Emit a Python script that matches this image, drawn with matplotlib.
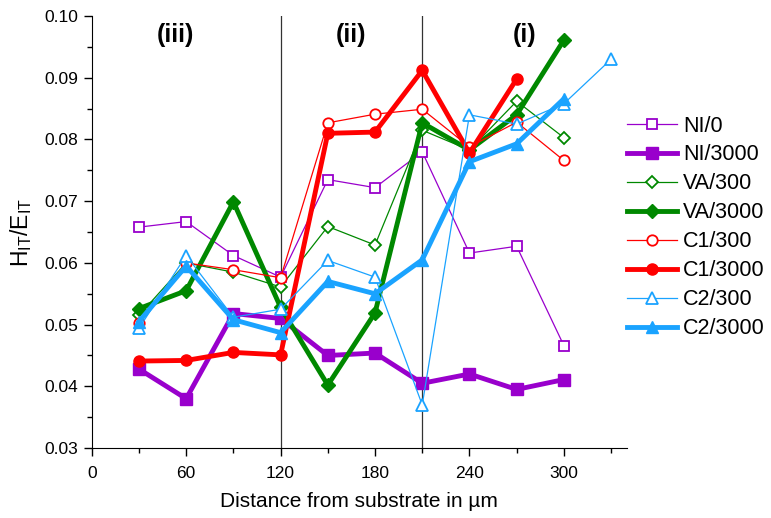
import matplotlib
matplotlib.use("Agg")
import matplotlib.pyplot as plt
from matplotlib.ticker import MultipleLocator, FormatStrFormatter

plt.rcParams['font.family'] = ['Liberation Sans', 'DejaVu Sans']
plt.rcParams['mathtext.fontset'] = 'custom'
plt.rcParams['mathtext.rm'] = 'Liberation Sans'
plt.rcParams['mathtext.it'] = 'Liberation Sans'

x10 = [30, 60, 90, 120, 150, 180, 210, 240, 270, 300]
x9 = [30, 60, 90, 120, 150, 180, 210, 240, 270]
x11 = [30, 60, 90, 120, 150, 180, 210, 240, 270, 300, 330]

ni_0 = [0.0658, 0.0667, 0.0612, 0.0577, 0.0735, 0.0722, 0.0780, 0.0616, 0.0627, 0.0466]
ni_3000 = [0.0428, 0.0380, 0.0518, 0.0510, 0.0450, 0.0454, 0.0405, 0.0420, 0.0395, 0.0411]
va_300 = [0.0515, 0.0600, 0.0585, 0.0561, 0.0659, 0.0629, 0.0815, 0.0783, 0.0862, 0.0803]
va_3000 = [0.0526, 0.0555, 0.0699, 0.0528, 0.0402, 0.0519, 0.0827, 0.0783, 0.0840, 0.0961]
c1_300 = [0.0503, 0.0600, 0.0589, 0.0576, 0.0827, 0.0841, 0.0849, 0.0788, 0.0828, 0.0766]
c1_3000 = [0.0441, 0.0442, 0.0455, 0.0451, 0.0810, 0.0812, 0.0912, 0.0778, 0.0898]
c2_300 = [0.0494, 0.0612, 0.0512, 0.0525, 0.0604, 0.0577, 0.0370, 0.0840, 0.0825, 0.0858, 0.0930]
c2_3000 = [0.0505, 0.0595, 0.0508, 0.0487, 0.0570, 0.0550, 0.0605, 0.0764, 0.0793, 0.0866]

purple = '#9900CC'
green = '#008800'
red = '#FF0000'
blue = '#1AA3FF'

fig = plt.figure(figsize=(7.71, 5.18), dpi=100)
ax = fig.add_axes([0.119, 0.135, 0.694, 0.834])

thin = dict(lw=0.9, markersize=7.5, markerfacecolor='white', markeredgewidth=1.3)
thick = dict(lw=3.5, markersize=8)

ax.plot(x10, ni_0, color=purple, marker='s', label='NI/0', **thin)
ax.plot(x10, ni_3000, color=purple, marker='s', label='NI/3000', **thick)
ax.plot(x10, va_300, color=green, marker='D', label='VA/300', lw=0.9, markersize=6.5, markerfacecolor='white', markeredgewidth=1.3)
ax.plot(x10, va_3000, color=green, marker='D', label='VA/3000', lw=3.5, markersize=7.5)
ax.plot(x10, c1_300, color=red, marker='o', label='C1/300', **thin)
ax.plot(x9, c1_3000, color=red, marker='o', label='C1/3000', **thick)
ax.plot(x11, c2_300, color=blue, marker='^', label='C2/300', lw=0.9, markersize=8.5, markerfacecolor='white', markeredgewidth=1.3)
ax.plot(x10, c2_3000, color=blue, marker='^', label='C2/3000', lw=3.5, markersize=9)

for xv in [120, 210]:
    ax.axvline(xv, color='#333333', lw=0.9, zorder=0)

ax.set_xlim(0, 340)
ax.set_ylim(0.03, 0.10)
ax.xaxis.set_major_locator(MultipleLocator(60))
ax.xaxis.set_minor_locator(MultipleLocator(30))
ax.yaxis.set_major_locator(MultipleLocator(0.01))
ax.yaxis.set_minor_locator(MultipleLocator(0.005))
ax.yaxis.set_major_formatter(FormatStrFormatter('%.2f'))
ax.spines['top'].set_visible(False)
ax.spines['right'].set_visible(False)
ax.tick_params(which='major', direction='out', length=6, width=1, labelsize=12.5)
ax.tick_params(axis='x', which='major', pad=7)
ax.tick_params(which='minor', direction='out', length=3.5, width=1)

ax.set_xlabel('Distance from substrate in µm', fontsize=15, labelpad=8)
ax.set_ylabel(r'H$_{\mathrm{IT}}$/E$_{\mathrm{IT}}$', fontsize=16.5, labelpad=8)

for tx, t in [(53, '(iii)'), (165, '(ii)'), (275, '(i)')]:
    ax.text(tx, 0.0969, t, fontsize=18, fontweight='bold', ha='center', va='center')

ax.legend(loc='center left', bbox_to_anchor=(0.808, 0.561), bbox_transform=fig.transFigure,
          frameon=False, fontsize=15.5, handlelength=2.3, labelspacing=0.37,
          handletextpad=0.3, borderaxespad=0, borderpad=0.2)

fig.savefig('out.png', dpi=100)
